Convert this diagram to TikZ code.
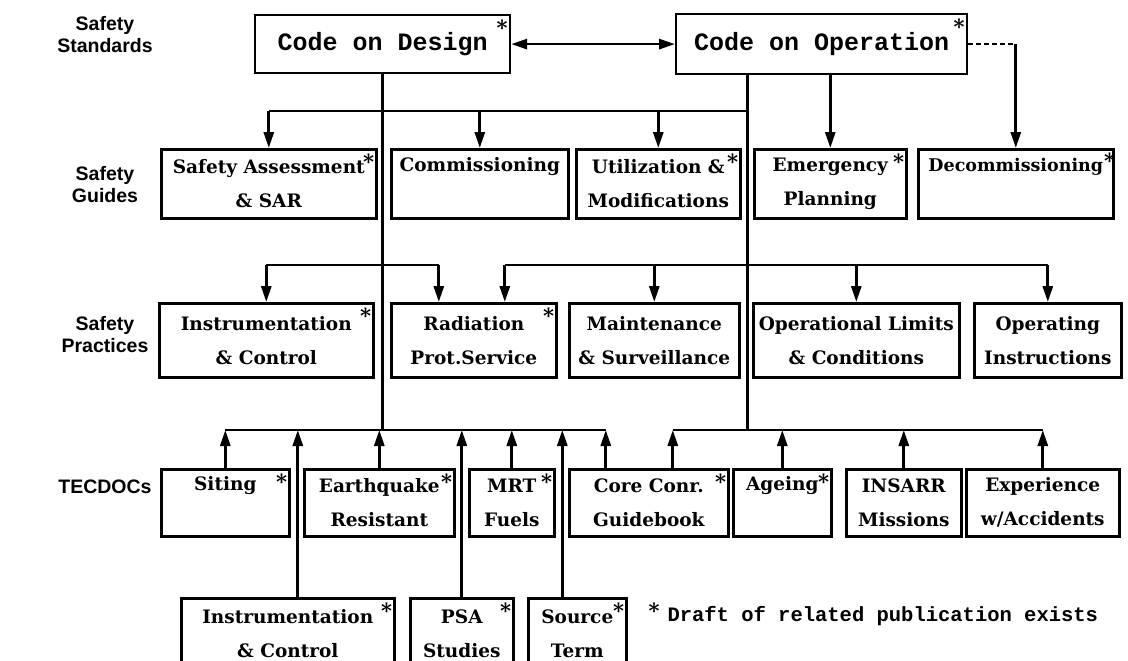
\documentclass[tikz,border=0pt]{standalone}
\usepackage{fontspec}
\setmainfont{DejaVu Serif}
\newfontfamily\labelfont{Liberation Sans}
\newfontfamily\codefont{Liberation Mono}
\usetikzlibrary{arrows.meta, positioning}

\tikzset{
  pubbox/.style={draw, line width=2.6pt, inner sep=0pt, anchor=north west, align=center,
    font=\fontsize{18.5}{34}\selectfont\bfseries},
  codebox/.style={draw, line width=2.2pt, inner sep=0pt, anchor=north west,
    font=\codefont\fontsize{25}{28}\selectfont\bfseries},
  rowlabel/.style={align=center, font=\labelfont\fontsize{19.5}{22}\selectfont\bfseries},
  link/.style={line width=2.8pt},
  arrowto/.style={-{Triangle[length=16pt,width=10pt]}},
  draftmark/.style={font=\fontsize{21}{21}\selectfont\bfseries, inner sep=0pt},
}

\begin{document}
\begin{tikzpicture}[x=1pt, y=-1pt]

\useasboundingbox (0,0) rectangle (1128,661);

% row labels
\node[rowlabel] (lstd) at (105,35) {Safety\\Standards};
\node[rowlabel] (lguide) at (105,185) {Safety\\Guides};
\node[rowlabel] (lprac) at (105,335) {Safety\\Practices};
\node[rowlabel] (ltec) at (105,487) {TECDOCs};

% safety standards
\node[codebox, minimum width=255, minimum height=58] (design) at (254,14) {Code on Design};
\node[codebox, minimum width=291, minimum height=60] (operation) at (675,13) {Code on Operation};

% safety guides
\node[pubbox, minimum width=215, minimum height=69] (sa) at (160,148) {Safety Assessment\\\& SAR};
\node[pubbox, minimum width=177, minimum height=69] (comm) at (390,148) {Commissioning\\\vphantom{Ag}};
\node[pubbox, minimum width=164, minimum height=69] (util) at (575,148) {Utilization \&\\Modifications};
\node[pubbox, minimum width=152, minimum height=69] (emerg) at (753,148) {Emergency\\Planning};
\node[pubbox, minimum width=195, minimum height=69, font=\fontsize{17.5}{34}\selectfont\bfseries] (decom) at (917,148) {Decommissioning\\\vphantom{Ag}};

% safety practices
\node[pubbox, minimum width=214, minimum height=74] (ic) at (158,302) {Instrumentation\\\& Control};
\node[pubbox, minimum width=165, minimum height=74] (rps) at (390,302) {Radiation\\Prot.Service};
\node[pubbox, minimum width=170, minimum height=74] (maint) at (568,302) {Maintenance\\\& Surveillance};
\node[pubbox, minimum width=206, minimum height=74] (olc) at (752,302) {Operational Limits\\\& Conditions};
\node[pubbox, minimum width=147, minimum height=74] (oi) at (973,302) {Operating\\Instructions};

% tecdocs
\node[pubbox, minimum width=128, minimum height=67] (siting) at (160,468) {Siting\\\vphantom{Ag}};
\node[pubbox, minimum width=150, minimum height=67] (quake) at (303,468) {Earthquake\\Resistant};
\node[pubbox, minimum width=85, minimum height=67] (mrt) at (468,468) {MRT\\Fuels};
\node[pubbox, minimum width=159, minimum height=67] (core) at (568,468) {Core Conr.\\Guidebook};
\node[pubbox, minimum width=98, minimum height=67] (ageing) at (732,468) {Ageing\\\vphantom{Ag}};
\node[pubbox, minimum width=115, minimum height=67] (insarr) at (845,468) {INSARR\\Missions};
\node[pubbox, minimum width=153, minimum height=67] (exper) at (965,468) {Experience\\w/Accidents};

\node[pubbox, minimum width=213, minimum height=70] (ic2) at (180,597) {Instrumentation\\\& Control};
\node[pubbox, minimum width=103, minimum height=70] (psa) at (409,597) {PSA\\Studies};
\node[pubbox, minimum width=98, minimum height=70] (source) at (527,597) {Source\\Term};

% draft marks
\foreach \b in {design,operation,sa,util,emerg,ic,rps,siting,quake,mrt,core,ageing,ic2,psa,source}
    \node[draftmark] (\b-star) at ([xshift=-9pt,yshift=-14pt]\b.north east) {*};
\node[draftmark] (decom-star) at ([xshift=-5pt,yshift=-13pt]decom.north east) {*};

\node[draftmark] (note-star) at (654,611) {*};
\node[anchor=west, font=\codefont\fontsize{20.5}{24}\selectfont\bfseries] (note) at (664,616) {Draft of related publication exists};

% bus levels
\coordinate (gbus) at (0,111);
\coordinate (pbus) at (0,265);
\coordinate (tbus) at (0,430);
\coordinate (opdown) at ([xshift=-74pt]operation.south);
\coordinate (dcorner) at (operation.east -| decom.north);

\draw[link, {Triangle[length=16pt,width=10pt]}-{Triangle[length=16pt,width=10pt]}] (design.east) -- (operation.west);
\draw[link, dash pattern=on 5pt off 3pt] (operation.east) -- (dcorner);
\draw[link, arrowto] (dcorner) -- (decom.north);

% trunks
\draw[link] (design.south) -- (design.south |- tbus);
\draw[link] (opdown) -- (opdown |- tbus);

% to guides
\draw[link] (sa.north |- gbus) -- (opdown |- gbus);
\foreach \b in {sa,comm,util}
    \draw[link, arrowto] (\b.north |- gbus) -- (\b.north);
\draw[link, arrowto] (emerg.north |- operation.south) -- (emerg.north);

% to practices
\coordinate (rpsl) at ([xshift=-35pt]rps.north);
\coordinate (rpsr) at ([xshift=31pt]rps.north);
\draw[link] (ic.north |- pbus) -- (rpsl |- pbus);
\draw[link] (rpsr |- pbus) -- (oi.north |- pbus);
\foreach \b in {ic.north,rpsl,rpsr,maint.north,olc.north,oi.north}
    \draw[link, arrowto] (\b |- pbus) -- (\b);

% from tecdocs
\coordinate (corel) at ([xshift=-43pt]core.north);
\coordinate (corer) at ([xshift=24pt]core.north);
\coordinate (ic2up) at ([xshift=10pt]ic2.north);
\coordinate (srcup) at ([xshift=-15pt]source.north);
\draw[link] (siting.north |- tbus) -- (corel |- tbus);
\draw[link] (corer |- tbus) -- (exper.north |- tbus);
\foreach \b in {siting.north,ic2up,quake.north,psa.north,mrt.north,srcup,corel,corer,ageing.north,insarr.north,exper.north}
    \draw[link, arrowto] (\b) -- (\b |- tbus);

\end{tikzpicture}
\end{document}
